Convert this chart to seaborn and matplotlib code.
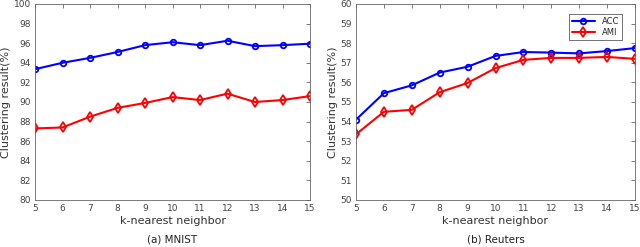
import matplotlib
matplotlib.use("Agg")
import matplotlib.pyplot as plt
import seaborn as sns
import pandas as pd

k = [5, 6, 7, 8, 9, 10, 11, 12, 13, 14, 15]
mnist_acc = [93.35, 94.0, 94.5, 95.1, 95.8, 96.1, 95.8, 96.25, 95.7, 95.8, 95.95]
mnist_ami = [87.3, 87.4, 88.5, 89.4, 89.9, 90.5, 90.2, 90.85, 90.0, 90.2, 90.6]
reuters_acc = [54.1, 55.45, 55.85, 56.5, 56.8, 57.35, 57.55, 57.52, 57.48, 57.6, 57.75]
reuters_ami = [53.35, 54.5, 54.6, 55.5, 55.97, 56.73, 57.15, 57.25, 57.25, 57.3, 57.2]

sns.set_style("white")
plt.rcParams['font.family'] = ['DejaVu Sans']

fig = plt.figure(figsize=(6.4, 2.47), dpi=100)
ax1 = fig.add_axes([35/640, 1-200/247, 275/640, 196/247])
ax2 = fig.add_axes([356/640, 1-200/247, 279/640, 196/247])

def draw(ax, acc, ami, ylim, yticks, caption, cx, legend):
    df = pd.DataFrame({"k": k + k, "v": acc + ami,
                       "m": ["ACC"] * len(k) + ["AMI"] * len(k)})
    sns.lineplot(data=df[df.m == "ACC"], x="k", y="v", ax=ax, color="#0000ff",
                 marker="o", markersize=4, markerfacecolor="none",
                 markeredgecolor="#0000ff", markeredgewidth=1.3, linewidth=1.5,
                 label="ACC")
    sns.lineplot(data=df[df.m == "AMI"], x="k", y="v", ax=ax, color="#ff0000",
                 marker="d", markersize=5, markerfacecolor="none",
                 markeredgecolor="#ff0000", markeredgewidth=1.3, linewidth=1.5,
                 label="AMI")
    ax.set_xlim(5, 15)
    ax.set_ylim(*ylim)
    ax.set_xticks(k)
    ax.set_yticks(yticks)
    ax.tick_params(direction="in", top=True, right=True, length=3,
                   labelsize=6.5, labelcolor="#444444", color="#666666",
                   width=0.6, pad=3)
    for s in ax.spines.values():
        s.set_color("#666666")
        s.set_linewidth(0.6)
    ax.set_xlabel("k-nearest neighbor", fontsize=8, color="#333333", labelpad=2)
    ax.set_ylabel("Clustering result(%)", fontsize=8, color="#333333", labelpad=2)
    fig.text(cx, 1 - 239/247, caption, ha="center", va="center",
             fontsize=7.5, color="#222222")
    if legend:
        leg = ax.legend(loc="upper right", fontsize=6, frameon=True,
                        fancybox=False, edgecolor="#333333", borderpad=0.35,
                        handlelength=2.8, labelspacing=0.25,
                        bbox_to_anchor=(1 - 9/279, 1 - 6/196))
        leg.get_frame().set_linewidth(0.6)
    else:
        ax.get_legend().remove()

draw(ax1, mnist_acc, mnist_ami, (80, 100), list(range(80, 101, 2)), "(a) MNIST",
     (35 + 275/2)/640, False)
draw(ax2, reuters_acc, reuters_ami, (50, 60), list(range(50, 61, 1)), "(b) Reuters",
     (356 + 279/2)/640, True)

fig.savefig("out.png", dpi=100)
